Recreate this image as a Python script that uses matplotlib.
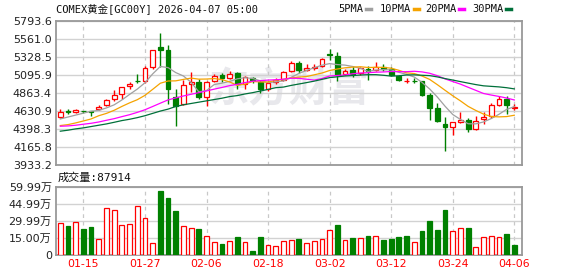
import numpy as np
import pandas as pd
import matplotlib
matplotlib.use("Agg")
import matplotlib.pyplot as plt
from matplotlib.lines import Line2D

plt.rcParams['font.family'] = ['DejaVu Sans', 'Noto Sans CJK SC']
MONO = ['DejaVu Sans Mono', 'Noto Sans CJK SC']

# 交易日 (04-03 休市)
dates = [d.strftime("%m-%d") for d in pd.bdate_range("2026-01-12", "2026-04-06")
         if d.strftime("%m-%d") != "04-03"]

opens = [4549, 4626, 4617, 4634, 4626, 4651, 4702, 4783, 4855, 4957,
         5022, 5017, 5200, 5455, 5421, 4817, 4715, 4983, 5004, 4817,
         5017, 5093, 5059, 5119, 4983, 5059, 5004, 4919, 5004, 5029,
         5144, 5251, 5166, 5187, 5217, 5365, 5344, 5115, 5166, 5119,
         5178, 5161, 5195, 5178, 5089, 5019, 5023, 5012, 4834, 4668,
         4460, 4430, 4494, 4511, 4392, 4532, 4562, 4710, 4783, 4672]
highs = [4655, 4655, 4660, 4636, 4628, 4706, 4791, 4898, 4946, 5004,
         5115, 5208, 5421, 5642, 5480, 4910, 5025, 5132, 5038, 5012,
         5106, 5119, 5153, 5132, 5080, 5072, 5025, 5012, 5051, 5144,
         5272, 5280, 5234, 5234, 5310, 5433, 5391, 5178, 5208, 5200,
         5217, 5259, 5234, 5204, 5098, 5051, 5051, 5021, 4859, 4740,
         4549, 4494, 4613, 4536, 4562, 4613, 4732, 4825, 4825, 4719]
lows = [4536, 4596, 4609, 4609, 4570, 4643, 4689, 4766, 4791, 4910,
        4987, 4995, 5174, 5200, 4715, 4443, 4707, 4876, 4783, 4689,
        5004, 5004, 5038, 4919, 4919, 4995, 4868, 4889, 4978, 5017,
        5132, 5123, 5144, 5166, 5204, 5285, 5017, 5102, 5072, 5102,
        5025, 5144, 5144, 5081, 5021, 4987, 4991, 4821, 4516, 4494,
        4111, 4324, 4473, 4366, 4383, 4460, 4536, 4698, 4596, 4643]
closes = [4613, 4622, 4643, 4631, 4624, 4677, 4779, 4842, 4944, 4983,
          5020, 5187, 5416, 5425, 4910, 4698, 4966, 5008, 4808, 5000,
          5081, 5055, 5115, 4983, 5072, 5029, 4910, 4995, 5029, 5136,
          5255, 5166, 5187, 5204, 5302, 5357, 5102, 5153, 5115, 5187,
          5153, 5195, 5174, 5102, 5029, 5023, 5019, 4834, 4672, 4507,
          4430, 4485, 4515, 4392, 4502, 4553, 4702, 4791, 4710, 4681]

volumes = [282000, 259000, 291000, 232000, 247000, 141000, 415000, 400000, 265000, 274000,
           432000, 326000, 106000, 568000, 506000, 391000, 256000, 238000, 232000, 168000,
           115000, 97000, 124000, 162000, 115000, 38000, 162000, 88000, 79000, 124000,
           132000, 144000, 106000, 124000, 141000, 221000, 268000, 132000, 153000, 150000,
           171000, 168000, 135000, 144000, 162000, 171000, 115000, 215000, 303000, 224000,
           400000, 212000, 238000, 241000, 74000, 159000, 168000, 159000, 188000, 87914]
vol_up = [1, 0, 1, 0, 0, 1, 1, 1, 1, 1,
          1, 1, 1, 0, 0, 0, 1, 1, 0, 1,
          1, 0, 1, 0, 1, 0, 0, 1, 1, 1,
          1, 0, 1, 1, 1, 1, 0, 1, 0, 1,
          0, 1, 0, 0, 0, 0, 1, 0, 0, 0,
          0, 1, 1, 0, 1, 1, 1, 1, 0, 0]

# 均线开头部分 (窗口之前的数据不在图内, 从图上读取)
ma_head = {
    5: [4528, 4553, 4578, 4603],
    10: [4443, 4455, 4477, 4502, 4528, 4570, 4600, 4640, 4690],
    20: [4434, 4438, 4447, 4460, 4472, 4489, 4511, 4532, 4558, 4583,
         4613, 4647, 4689, 4732, 4774, 4800, 4825, 4847, 4868],
    30: [4370, 4383, 4400, 4413, 4430, 4447, 4464, 4485, 4507, 4524,
         4545, 4570, 4600, 4630, 4655, 4689, 4711, 4728, 4745, 4762,
         4779, 4796, 4817, 4830, 4851, 4868, 4889, 4910, 4932],
}
ma_colors = {5: "#a0a0a0", 10: "#f5a300", 20: "#ff00ff", 30: "#00703a"}

price_ticks = [3933.2, 4165.8, 4398.3, 4630.9, 4863.4, 5095.9, 5328.5, 5561.0, 5793.6]
vol_ticks = [0, 150000, 299900, 449900, 599900]
vol_labels = ["0", "15.00万", "29.99万", "44.99万", "59.99万"]

RED = "#ff0000"
GREEN = "#008000"
W, H = 578, 276

o = np.array(opens, float)
c = np.array(closes, float)
x = np.arange(len(c))
up = c >= o
tick_idx = list(range(3, len(x), 8))

fig = plt.figure(figsize=(W / 100, H / 100), dpi=100)
ax = fig.add_axes([56 / W, 111 / H, 466 / W, 144 / H])
axv = fig.add_axes([56 / W, 21 / H, 466 / W, 68 / H])

for a in (ax, axv):
    a.set_xlim(-0.56, 60.0)
    a.set_axisbelow(True)
    a.set_xticks(tick_idx)
    a.xaxis.grid(True, color="#c8c8c8", lw=0.9, ls=(0, (3, 3)))
    a.yaxis.grid(True, color="#d2d2d2", lw=1.0)
    a.tick_params(length=0, labelsize=8, colors="#222222", pad=3)
    for s in a.spines.values():
        s.set_color("#999999")
        s.set_linewidth(1.3)

# 水印
ax.text(0.50, 0.52, "东方财富", transform=ax.transAxes, ha="center", va="center",
        fontsize=29, fontweight="bold", color="#e8e8ec", family="Noto Sans CJK SC", zorder=0)

# K线
cols = np.where(up, RED, GREEN)
ax.vlines(x, lows, highs, colors=cols, lw=1.0, zorder=2)
body = np.maximum(np.abs(c - o), 2)
ax.bar(x, body, bottom=np.minimum(o, c), width=0.62,
       facecolor=np.where(up, "white", GREEN), edgecolor=cols, lw=0.9, zorder=3)

# 均线
cs = pd.Series(c)
for n, head in ma_head.items():
    ma = cs.rolling(n).mean()
    ma.iloc[:n - 1] = head
    ax.plot(x, ma, color=ma_colors[n], lw=0.9, zorder=4)

ax.set_ylim(price_ticks[0], price_ticks[-1])
ax.set_yticks(price_ticks)
ax.set_yticklabels([f"{v:.1f}" for v in price_ticks])
ax.set_xticklabels([])

# 成交量
vu = np.array(vol_up, bool)
axv.bar(x, volumes, width=0.62, facecolor=np.where(vu, "white", GREEN),
        edgecolor=np.where(vu, RED, GREEN), lw=0.9, zorder=3)
axv.set_ylim(0, vol_ticks[-1])
axv.set_yticks(vol_ticks)
axv.set_yticklabels(vol_labels)
axv.set_xticklabels([dates[i] for i in tick_idx], color=RED, fontsize=7.8)

# 标题和图例
fig.text(56 / W, 1 - 9 / H, "COMEX黄金[GC00Y] 2026-04-07 05:00", family=MONO,
         fontsize=7.5, va="center", ha="left", color="#111111")
legend_x = [338, 380, 425, 472]
for lx, n in zip(legend_x, ma_head):
    fig.text(lx / W, 1 - 9 / H, f"{n}PMA", family=MONO, fontsize=7.5,
             va="center", ha="left", color="#111111")
    dx = lx + 6.2 * len(f"{n}PMA") + 3
    fig.add_artist(Line2D([dx / W, (dx + 5) / W], [1 - 9 / H, 1 - 9 / H],
                          transform=fig.transFigure, color=ma_colors[n], lw=2.5))

fig.text(58 / W, 1 - 177.5 / H, f"成交量:{volumes[-1]}", family=MONO,
         fontsize=8, va="center", ha="left", color="#111111")

fig.savefig("out.png", dpi=100)
